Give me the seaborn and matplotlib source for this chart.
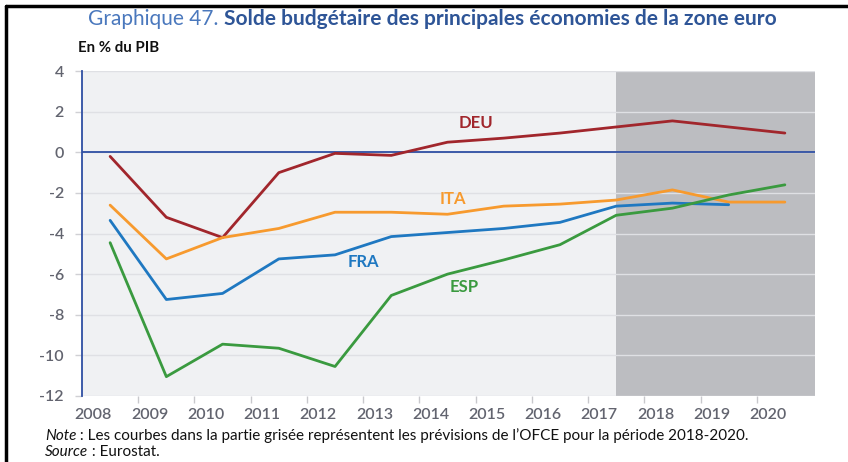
import pandas as pd
import seaborn as sns
import matplotlib.pyplot as plt
from matplotlib.lines import Line2D

# Data (solde budgetaire, % du PIB)
years = list(range(2008, 2021))
deu = [-0.2, -3.2, -4.2, -1.0, -0.05, -0.15, 0.5, 0.7, 0.95, 1.25, 1.55, 1.25, 0.95]
ita = [-2.6, -5.25, -4.2, -3.75, -2.95, -2.95, -3.05, -2.65, -2.55, -2.35, -1.85, -2.45, -2.45]
fra = [-3.35, -7.25, -6.95, -5.25, -5.05, -4.15, -3.95, -3.75, -3.45, -2.65, -2.5, -2.58, None]
esp = [-4.45, -11.05, -9.45, -9.65, -10.55, -7.05, -6.0, -5.3, -4.55, -3.1, -2.75, -2.1, -1.6]
countries = ['DEU', 'ITA', 'FRA', 'ESP']
colors = {'DEU': '#a1262c', 'ITA': '#f79a2e', 'FRA': '#1f78c1', 'ESP': '#3a9a3f'}
label_pos = {'DEU': (6.5, 1.45), 'ITA': (6.1, -2.3), 'FRA': (4.5, -5.4), 'ESP': (6.3, -6.65)}
forecast_start = 2017
yticks = list(range(-12, 5, 2))

df = pd.DataFrame({'annee': years, 'DEU': deu, 'ITA': ita, 'FRA': fra, 'ESP': esp})
long = df.melt(id_vars='annee', var_name='pays', value_name='solde').dropna()

sns.set_theme(style='white')
plt.rcParams['font.family'] = ['Lato', 'DejaVu Sans']

fig = plt.figure(figsize=(8.48, 4.62), dpi=100)
ax = fig.add_axes([0.0967, 0.143, 0.864, 0.703])
ax.set_facecolor('#f0f1f3')

# forecast zone
ax.axvspan(forecast_start, 2020.53, color='#bcbdc1', zorder=0, lw=0)

sns.lineplot(data=long, x='annee', y='solde', hue='pays', hue_order=countries,
             palette=colors, estimator=None, sort=False, linewidth=2.0,
             legend=False, ax=ax, zorder=3)

ax.axhline(0, color='#2f4fa3', lw=1.3, zorder=2)

for c in countries:
    x, y = label_pos[c]
    ax.text(2008 + x, y, c, color=colors[c], fontsize=12, fontweight='bold',
            ha='center', va='center', zorder=4)

ax.set_xlim(2007.5, 2020.53)
ax.set_ylim(-12, 4)
ax.set_yticks(yticks)
ax.set_yticklabels([str(v) for v in yticks])
ax.yaxis.grid(True, color='#dfe0e4', lw=1.0)
ax.set_axisbelow(True)

# year labels slightly left of points, tick marks between years
ax.set_xticks([y - 0.3 for y in years])
ax.set_xticklabels([str(y) for y in years])
ax.set_xticks([y + 0.5 for y in years[:-1]], minor=True)
ax.tick_params(axis='x', which='major', length=0, pad=9, labelsize=11.5, labelcolor='#62646f')
ax.tick_params(axis='x', which='minor', length=5, color='#c8c8cc', width=1, direction='out', bottom=True)
ax.tick_params(axis='y', which='major', length=5, color='#d0d0d4', width=1, left=True,
               pad=8, labelsize=11.5, labelcolor='#62646f')
for lab in ax.get_xticklabels() + ax.get_yticklabels():
    lab.set_fontweight('semibold')

for s in ['top', 'right', 'bottom']:
    ax.spines[s].set_visible(False)
ax.spines['left'].set_color('#2f4fa3')
ax.spines['left'].set_linewidth(1.3)
ax.set_xlabel('')
ax.set_ylabel('')

renderer = fig.canvas.get_renderer()


def text_run(x, y, parts, **kw):
    # draw consecutive pieces of text with different styles on one line
    for s, style in parts:
        t = fig.text(x, y, s, va='center', ha='left', **kw, **style)
        x = fig.transFigure.inverted().transform(
            (t.get_window_extent(renderer).x1, 0))[0]


text_run(88 / 848, 1 - 19 / 462,
         [('Graphique 47. ', dict(color='#4a78bd')),
          ('Solde budgétaire des principales économies de la zone euro',
           dict(color='#2e5597', fontweight='bold'))], fontsize=15)
fig.text(78 / 848, 1 - 48 / 462, 'En % du PIB', fontsize=10.8, fontweight='bold',
         color='#111111', va='center', ha='left')
text_run(45 / 848, 1 - 436 / 462,
         [('Note', dict(style='italic')),
          (' : Les courbes dans la partie grisée représentent les prévisions de '
           'l\u2019OFCE pour la période 2018-2020.', {})],
         fontsize=11, color='#111111')
text_run(45 / 848, 1 - 452 / 462,
         [('Source', dict(style='italic')), (' : Eurostat.', {})],
         fontsize=11, color='#111111')

# black frame on top and left
fig.add_artist(Line2D([6 / 848, 6 / 848], [0, 1 - 6 / 462], transform=fig.transFigure,
                      color='black', lw=2.5))
fig.add_artist(Line2D([6 / 848, 1], [1 - 6 / 462, 1 - 6 / 462], transform=fig.transFigure,
                      color='black', lw=2.5))

fig.savefig('out.png', dpi=100)
